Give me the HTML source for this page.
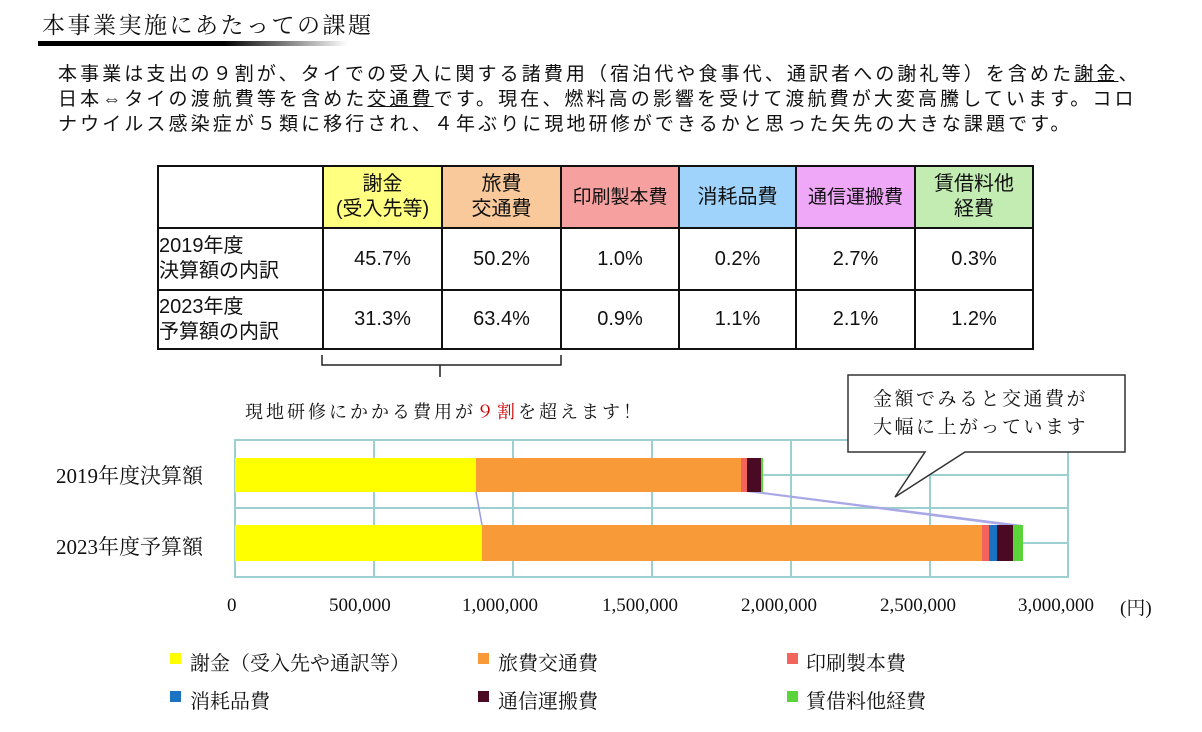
<!DOCTYPE html>
<html><head><meta charset="utf-8"><style>
body{margin:0;width:1202px;height:732px;background:#fff;position:relative;overflow:hidden;font-family:"Liberation Serif","Noto Serif CJK SC",serif;color:#111}
.a{position:absolute;white-space:nowrap}
.p{font-family:"Liberation Sans","Noto Sans CJK JP",sans-serif;font-size:19px;line-height:24px;letter-spacing:3.1px}
.t{font-size:19px;top:595px}
table{position:absolute;left:157px;top:165px;border-collapse:collapse;font-family:"Liberation Sans","Noto Sans CJK JP",sans-serif;font-size:20px;table-layout:fixed}
td{border:2px solid #111;text-align:center;padding:0;line-height:25px;overflow:hidden;white-space:nowrap}
td.l{text-align:left}
</style></head><body>
<div class="a" style="left:42px;top:7px;font-size:23px;letter-spacing:2.5px">本事業実施にあたっての課題</div>
<div class="a" style="left:38px;top:41px;width:310px;height:5px;background:linear-gradient(90deg,#000 60%,#fff)"></div>
<div class="a p" style="left:58px;top:63px">本事業は支出の９割が、タイでの受入に関する諸費用（宿泊代や食事代、通訳者への謝礼等）を含めた<u>謝金</u>、</div>
<div class="a p" style="left:58px;top:88px">日本⇔タイの渡航費等を含めた<u>交通費</u>です。現在、燃料高の影響を受けて渡航費が大変高騰しています。コロ</div>
<div class="a p" style="left:58px;top:113px">ナウイルス感染症が５類に移行され、４年ぶりに現地研修ができるかと思った矢先の大きな課題です。</div>
<table>
<colgroup><col style="width:165px"><col style="width:119px"><col style="width:119px"><col style="width:118px"><col style="width:117px"><col style="width:119px"><col style="width:118px"></colgroup>
<tr style="height:62px"><td style="background:#fff"></td><td style="background:#ffff80">謝金<br>(受入先等)</td><td style="background:#f9c99b">旅費<br>交通費</td><td style="background:#f7a0a0;font-size:19px">印刷製本費</td><td style="background:#9fd3fb">消耗品費</td><td style="background:#efa7f7;font-size:19px">通信運搬費</td><td style="background:#c3ecb3">賃借料他<br>経費</td></tr>
<tr style="height:62px"><td class="l">2019年度<br>決算額の内訳</td><td>45.7%</td><td>50.2%</td><td>1.0%</td><td>0.2%</td><td>2.7%</td><td>0.3%</td></tr>
<tr style="height:59px"><td class="l">2023年度<br>予算額の内訳</td><td>31.3%</td><td>63.4%</td><td>0.9%</td><td>1.1%</td><td>2.1%</td><td>1.2%</td></tr>
</table>
<svg class="a" style="left:0;top:0" width="1202" height="732">
<path d="M322,355 v10 h118 v12 M440,365 h121 v-10" fill="none" stroke="#222" stroke-width="1.5"/>
<g stroke="#9ccfd0" stroke-width="2" fill="none">
<rect x="235" y="440" width="833" height="137"/>
<line x1="374" y1="440" x2="374" y2="577"/><line x1="513" y1="440" x2="513" y2="577"/><line x1="652" y1="440" x2="652" y2="577"/><line x1="791" y1="440" x2="791" y2="577"/><line x1="930" y1="440" x2="930" y2="577"/>
<line x1="235" y1="475" x2="1068" y2="475"/><line x1="235" y1="508" x2="1068" y2="508"/><line x1="235" y1="543" x2="1068" y2="543"/>
</g>
<rect x="235" y="458" width="241" height="34" fill="#ffff00"/>
<rect x="476" y="458" width="265" height="34" fill="#f99a38"/>
<rect x="741" y="458" width="6" height="34" fill="#f2645c"/>
<rect x="747" y="458" width="14" height="34" fill="#4a0a24"/>
<rect x="761" y="458" width="2" height="34" fill="#5ad43a"/>
<rect x="235" y="525" width="247" height="36" fill="#ffff00"/>
<rect x="482" y="525" width="500" height="36" fill="#f99a38"/>
<rect x="982" y="525" width="7" height="36" fill="#f2645c"/>
<rect x="989" y="525" width="8" height="36" fill="#1a72c0"/>
<rect x="997" y="525" width="16" height="36" fill="#4a0a24"/>
<rect x="1013" y="525" width="10" height="36" fill="#5ad43a"/>
<line x1="476" y1="492" x2="482" y2="525" stroke="#9a9ae0" stroke-width="1.5"/>
<polygon points="747,492 763,492 1023,525 1001,525" fill="#a8a8e6"/>
<path d="M848,375 H1125 V452 H965 L895,497 L925,452 H848 Z" fill="#fff" stroke="#333" stroke-width="1.5"/>
<rect x="170" y="653" width="11" height="11" fill="#ffff00"/><rect x="478" y="653" width="11" height="11" fill="#f99a38"/><rect x="787" y="653" width="11" height="11" fill="#f2645c"/>
<rect x="170" y="691" width="11" height="11" fill="#1a72c0"/><rect x="478" y="691" width="11" height="11" fill="#4a0a24"/><rect x="787" y="691" width="11" height="11" fill="#5ad43a"/>
</svg>
<div class="a" style="left:245px;top:398px;font-size:18px;letter-spacing:3px">現地研修にかかる費用が<span style="color:#c00">９割</span>を超えます！</div>
<div class="a" style="left:873px;top:386px;font-size:19px;line-height:28px;letter-spacing:2.5px">金額でみると交通費が<br>大幅に上がっています</div>
<div class="a" style="left:56px;top:460px;font-size:21px">2019年度決算額</div>
<div class="a" style="left:56px;top:531px;font-size:21px">2023年度予算額</div>
<div class="a t" style="left:227px">0</div>
<div class="a t" style="left:329px">500,000</div>
<div class="a t" style="left:462px">1,000,000</div>
<div class="a t" style="left:602px">1,500,000</div>
<div class="a t" style="left:741px">2,000,000</div>
<div class="a t" style="left:880px">2,500,000</div>
<div class="a t" style="left:1018px">3,000,000</div>
<div class="a t" style="left:1120px;top:593px">(円)</div>
<div class="a" style="font-size:20px;top:647px;left:190px">謝金（受入先や通訳等）</div>
<div class="a" style="font-size:20px;top:647px;left:498px">旅費交通費</div>
<div class="a" style="font-size:20px;top:647px;left:806px">印刷製本費</div>
<div class="a" style="font-size:20px;top:685px;left:190px">消耗品費</div>
<div class="a" style="font-size:20px;top:685px;left:498px">通信運搬費</div>
<div class="a" style="font-size:20px;top:685px;left:806px">賃借料他経費</div>
</body></html>
